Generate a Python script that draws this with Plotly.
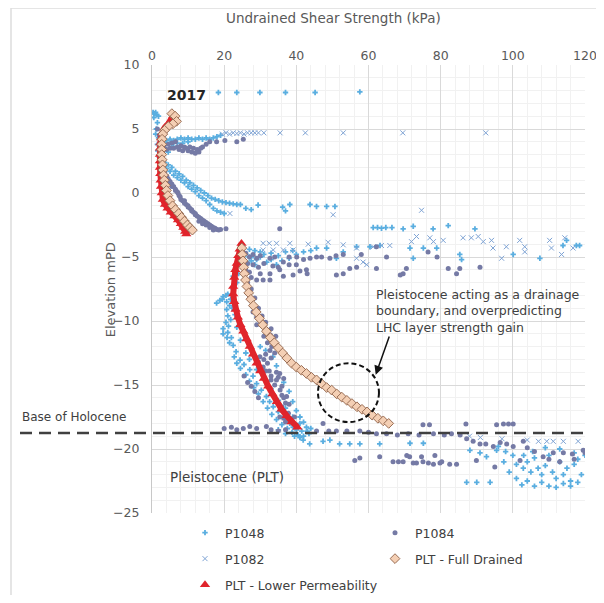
import plotly.graph_objects as go

# ---------------- data ----------------
P1048 = [
    (0.3,6.3),(0.8,6.2),(1.3,6.1),(1.8,6.0),(0.5,5.9),(1.0,6.3),
    (18.4,7.85),(23.5,7.85),(29.9,7.85),(37.0,7.85),(45.2,7.85),(57.6,7.9),
    (1.5,5.5),(1.2,5.0),(1.0,4.6),(1.8,4.3),(1.5,3.8),(1.6,3.3),(2.0,2.8),(2.3,2.3),(2.6,1.8),
    (3,4.2),(4,4.1),(5,4.2),(6,4.1),(7,4.2),(8,4.3),(9,4.2),(10,4.3),(11,4.2),(12,4.2),(13,4.3),
    (14,4.2),(15,4.3),(16,4.2),(17,4.3),(18,4.4),(19,4.5),(4,3.9),(5.5,3.8),(7,3.9),(8.5,3.9),
    (10,4.0),(3.5,3.5),(4.5,3.2),(6,3.6),
    (3.5,2.4),(4.5,2.2),(5.5,2.0),(6.5,1.7),(7.5,1.5),(8.5,1.3),(9.5,1.0),(10.5,0.8),(11.5,0.6),
    (12.5,0.4),(13.5,0.2),(14.5,0.0),(15.5,-0.2),(16.5,-0.4),(17.5,-0.5),(18.5,-0.6),(19.5,-0.7),
    (20.5,-0.75),(21.5,-0.8),(22.5,-0.85),(23.5,-0.9),(24.5,-0.9),
    (4,1.9),(5,1.7),(6,1.4),(7,1.2),(8,1.0),(9,0.8),(10,0.5),(11,0.3),(12,0.1),(13,-0.2),
    (14,-0.4),(15,-0.6),(16,-0.9),(17,-1.2),(18,-1.4),(19,-1.5),(20,-1.6),
    (26,-1.2),(27.5,-1.3),(29.4,-0.94),(36.2,-1.1),(37,-1.4),(38.2,-0.9),(43.8,-0.9),
    (45.6,-1.05),(48.4,-1.05),(50.7,-1.05),
    (61.3,-2.7),(62.5,-2.7),(63.6,-2.75),(64.8,-2.7),(66.5,-2.7),(69.6,-2.8),(72.4,-2.6),
    (77.9,-2.8),(82.1,-2.55),(89.5,-2.8),
    (26,-4.8),(27,-5.0),(28,-4.9),(29,-5.2),(30,-5.0),(31.8,-5.4),(33,-5.2),(34.5,-5.6),(36,-5.3),
    (38,-5.1),(40,-4.8),(42,-4.6),(44,-4.5),(45.6,-4.3),(48.4,-4.3),(51.1,-5.1),(53,-4.6),
    (56.7,-4.2),(60.4,-4.2),(63.2,-4.1),(71.5,-4.3),(72.4,-5.1),(75.2,-4.3),(78.9,-4.3),
    (85.3,-4.8),(85.8,-5.2),(100.1,-4.8),(107.5,-5.1),(113.9,-4.1),(117.6,-4.1),(118.5,-4.1),
    (114.9,-3.7),(24.5,-5.5),(25.5,-5.8),(26.5,-5.5),(27.5,-5.3),(28.5,-5.6),
    (24.5,-4.5),(25.5,-4.6),(27,-4.4),(28.5,-4.5),(30,-4.6),(31,-4.8),(33,-4.7),(35,-4.9),
    (37,-4.6),(39,-4.5),
    (24,-6.3),(23.5,-7.0),(22.5,-7.5),(21,-7.9),(19.7,-8.1),(17.9,-8.6),(18.8,-8.4),(20.7,-8.5),
    (21.5,-8.8),(20.7,-9.1),(21,-9.6),(20.5,-10.1),(19.7,-10.6),(19.7,-11.0),(21,-10.9),
    (22,-11.3),(22.5,-11.9),(23.3,-12.4),(24.4,-13.05),(25.5,-13.4),(27.1,-13.8),(28,-14.3),
    (29,-14.9),(30.3,-15.4),(31.7,-15.9),(32.6,-16.3),(33.6,-16.7),(35,-17.1),(36.4,-17.5),
    (37.3,-17.8),(38.2,-18.0),(39.1,-18.3),(40,-18.5),(41.5,-18.6),(42.8,-18.3),(43.5,-18.8),
    (41,-19.1),(39.5,-19.0),
    (19.5,-8.3),(20.5,-8.0),(21.8,-8.3),(22.2,-9.0),(21.8,-9.9),(21.2,-10.4),(20.8,-11.3),
    (21.5,-11.7),(22.8,-12.8),(23.5,-13.3),(24.5,-13.7),(26,-14.2),(27,-14.7),(28.2,-15.2),
    (29.5,-15.7),(30.8,-16.3),(32,-16.8),(33.2,-17.3),(34.5,-17.7),(36,-18.1),(37.5,-18.4),
    (38.8,-18.7),(40.5,-18.9),(42,-19.0),(37,-18.8),(35,-18.5),
    (23,-6),(22.5,-6.5),(23,-9.5),(23.5,-10.5),(24.5,-11.5),(26,-12.5),(27,-13),(29,-13.8),
    (31,-14.5),(33,-15.3),(35,-16.2),(37,-16.8),(39,-17.5),(41,-18.0),(43,-18.6),
    (30,-12.0),(31.5,-12.3),(33.5,-12.8),(34.5,-13.5),(36.5,-14.8),(38,-15.5),(39,-16.3),
    (40,-17.0),(41,-17.5),(42,-17.9),(44,-18.4),
    (41.9,-19.3),(43.7,-19.6),(47.4,-19.4),(49.3,-19.3),(52,-19.6),(54.8,-19.6),(57.6,-19.6),
    (63.1,-19.6),(71.5,-19.55),(75.2,-19.55),(87.2,-22.6),(90,-22.6),(93.7,-22.6),
    (90.9,-20.3),(95.5,-20.1),(88.1,-20.1),(92.7,-20.6),
    (96,-19.8),(98,-20.2),(100,-20.5),(101,-21.2),(102.9,-21.5),(104,-21.0),(105,-21.8),
    (106,-20.7),(107,-21.5),(108,-22.0),(109,-21.3),(110,-20.5),(111,-21.8),(112,-22.3),
    (113,-21.0),(114,-22.0),(115,-21.5),(116,-22.5),(117,-21.2),(118,-20.8),(119,-22.0),
    (101,-22.3),(102.5,-22.8),(104,-22.5),(106,-22.9),(108,-22.6),(110,-22.9),(112,-23.0),
    (114,-22.7),(116,-22.9),(118,-22.6),(103,-20.5),(105.5,-20.2),(109,-19.9),(113,-20.0),
    (117,-20.3),(120,-20.5),(99,-21.8),(97.5,-21.0),
]

P1084 = [
    (1.5,5.0),(2,4.5),(2.5,4.0),(3,3.7),(3.5,3.5),(4,3.4),(5,3.5),(6,3.5),(7,3.6),(8,3.7),
    (9,3.6),(10,3.3),(11,3.2),(12,3.1),(13,3.2),(14,3.6),(15,3.8),(16,4.0),
    (17.9,4.0),(20.2,4.1),(23.5,4.0),(25.3,4.2),
    (4.5,3.8),(5.5,3.9),(6.5,4.0),(7.5,3.4),(8.5,3.3),(9.5,3.5),(10.5,3.6),(11.5,3.5),
    (12.5,3.4),(13.5,3.5),
    (2.5,2.5),(3,2.0),(3.5,1.6),(4.1,1.3),(5,0.9),(6,0.5),(7,0.1),(7.8,-0.3),(8.5,-0.6),
    (9.5,-0.9),(10.5,-1.2),(11.5,-1.5),(12.5,-1.8),(13.5,-2.0),(14.5,-2.2),(15.5,-2.4),
    (16.5,-2.6),(17.5,-2.75),(18,-2.85),(20.5,-2.8),(35.4,-2.8),
    (5.5,0.5),(6.5,0.2),(7.5,-0.2),(9,-0.6),(10,-1.0),(11,-1.3),(12,-1.6),(13,-1.9),
    (14,-2.1),(15,-2.3),(16,-2.5),(17,-2.7),
    (4.5,1.1),(5.5,0.7),(6.5,0.3),(7.2,0.0),(8,-0.5),(9,-0.8),(10,-1.1),(11,-1.4),(12,-1.7),
    (13,-2.2),(14,-2.4),(15,-2.5),(16,-2.7),(17,-2.9),(18.5,-2.9),(19,-2.85),
    (26,-4.7),(27,-5.0),(28,-4.8),(29,-5.1),(30,-4.9),(32.7,-5.1),(34,-5.0),(36.4,-5.4),
    (38,-5.0),(40.1,-5.0),(42,-5.2),(43.8,-5.1),(45.6,-5.0),(47,-5.0),(49.3,-5.1),(51,-4.9),
    (53,-4.8),(35.4,-6.0),(36.4,-6.5),(39.1,-6.4),(42.8,-6.0),(43,-6.3),(32.7,-6.8),
    (30.8,-6.8),(29,-6.8),(32.7,-6.3),(51.1,-6.4),(53,-6.3),(54.8,-5.9),(56.7,-5.8),
    (62.2,-5.9),(69.6,-6.3),(70.5,-5.9),(68.8,-6.4),(76.5,-4.6),(82.1,-5.9),(84.4,-6.3),
    (85.3,-5.9),(90.9,-5.8),(62.2,-4.2),(58,-4.8),(65,-5.0),(79,-5.0),
    (28,-5.6),(29.5,-5.8),(31,-5.5),(26,-6.0),(27.5,-6.6),(30,-6.3),(33.5,-5.7),(35,-5.8),
    (38,-5.6),(40,-5.6),(41,-6.1),
    (26.5,-5.5),(27,-6.2),(26.5,-7.0),(27.1,-8.1),(28,-8.8),(29,-9.7),(30.3,-10.2),
    (31.7,-10.7),(32.8,-11.1),(33.6,-11.5),(33.2,-12.0),(32.7,-12.3),(31.5,-12.6),
    (29.9,-12.8),(29.5,-13.2),(30.8,-13.6),(32.5,-13.9),(35.4,-14.1),(35,-14.4),(34.5,-14.6),
    (34,-15.0),(35.5,-15.4),(37.3,-15.9),(37,-16.4),(36.4,-17.0),(35.4,-17.5),(36.5,-17.6),
    (38.2,-17.7),(28,-9.3),(29,-10.3),(31,-11.2),(32,-11.7),(31,-13.0),(33,-14.3),(36,-15.8),
    (36,-16.7),(25.5,-14.3),(26.5,-14.8),(27.5,-15.1),(28.5,-15.5),(29.5,-16.0),
    (27.5,-7.5),(28.5,-8.2),(29.5,-9.0),(30.5,-9.6),(31.5,-10.1),(33,-10.6),(34.3,-11.2),
    (34.5,-11.8),(34,-12.5),(33,-12.9),(32,-13.3),(31.5,-13.9),(33,-14.6),(34.5,-14.0),
    (36.5,-14.5),(36,-15.1),(36.5,-16.0),(38,-16.5),(37.8,-17.2),(37,-17.9),(39,-18.0),
    (39.5,-17.5),
    (20,-18.4),(22,-18.3),(23.5,-18.5),(25.3,-18.4),(27.1,-18.25),(29,-18.4),(31.7,-18.25),
    (33,-18.5),(35,-18.6),(37,-18.5),(45.6,-18.6),(47.4,-18.0),(49,-18.6),(51.1,-18.6),
    (54,-18.6),(57.6,-18.6),(60,-18.7),(62.2,-18.8),(75.1,-18.1),(76.9,-18.1),(87.0,-18.05),
    (95.5,-18.1),(97.4,-18.05),(98.8,-18.05),(100.1,-18.05),
    (65,-18.8),(68,-18.9),(71,-18.8),(74,-18.9),(78,-18.8),(81,-18.9),(83,-18.8),(85.4,-18.9),
    (87.2,-19.2),(89,-19.4),(90.9,-19.6),(92.5,-19.6),(94.6,-19.8),(96.5,-19.5),(98.3,-19.6),
    (100.1,-19.8),(102.9,-19.4),(104,-19.9),(106,-20.2),(108.4,-20.6),(111.2,-20.3),
    (114,-20.3),(116.5,-20.4),(119.5,-20.1),(110,-20.8),(113,-21.0),(117,-20.8),(120,-20.3),
    (56.2,-20.9),(57.6,-20.7),(63.1,-20.6),(66.8,-21.0),(68.3,-21.0),(69.6,-21.0),(70.6,-20.5),
    (71.4,-20.6),(72.4,-21.1),(73.3,-21.1),(74.7,-20.6),(75.1,-21.0),(76.6,-21.1),(78,-21.2),
    (78.4,-20.5),(79.8,-21.1),(80.3,-21.0),(82.5,-21.2),(84.4,-21.2),(89.9,-20.9),(95,-21.4),
    (102,-20.9),
]

P1082 = [
    (19.5,4.6),(20.5,4.7),(21.5,4.6),(22.5,4.7),(23.5,4.65),(24.5,4.7),(25.5,4.6),(26.5,4.7),
    (27.5,4.7),(28.5,4.7),(29.5,4.7),(31,4.7),(35.5,4.7),(42.5,4.7),(53,4.7),(69.5,4.7),(92.5,4.7),
    (21.6,-1.6),(50.2,-1.7),(74.7,-1.35),
    (30.8,-3.93),(32.5,-3.93),(34.5,-3.93),(38.2,-3.93),(43.3,-4.0),(48.8,-3.85),(53,-4.05),
    (56.7,-4.3),(61.3,-4.2),(63.6,-4.1),(65.9,-4.1),(30.8,-4.45),(33.6,-4.45),(36.4,-4.45),
    (39.1,-4.45),(56.7,-5.1),(58.5,-5.4),(59.5,-5.6),(71.9,-3.8),(73.3,-3.4),(77,-3.5),
    (78,-3.8),(80.7,-3.7),(86.2,-3.5),(88.5,-3.5),(90.4,-3.4),(91.8,-3.8),(94.1,-3.7),
    (94.5,-4.3),(96.9,-5.1),(98.2,-4.2),(101.9,-3.7),(103.3,-4.6),(103.3,-4.2),(110.2,-3.7),
    (110.7,-4.3),(113.5,-4.8),(114.4,-3.5),(116.7,-4.3),
    (107.1,-19.4),(109.4,-19.4),(111.2,-19.4),(114,-19.4),(118.1,-19.4),
    (88,-19.0),(91,-19.1),(97,-19.2),(104,-19.3),
]

PLT_LOWER_PERM_UPPER = [
    (5.8,6.0),(5.3,5.7),(4.5,5.4),(3.5,5.1),(2.8,4.7),(2.5,4.3),(2.3,3.9),(2.2,3.5),(2.2,3.0),
    (2.2,2.5),(2.2,2.0),(2.3,1.5),(2.4,1.0),(2.5,0.5),(2.7,0.0),(3.0,-0.5),(3.6,-0.9),
    (4.3,-1.2),(5.2,-1.5),(6.2,-1.8),(7.2,-2.1),(8.0,-2.4),(8.7,-2.7),(9.2,-3.0),(9.5,-3.2),
]
PLT_LOWER_PERM_LOWER = [
    (24.8,-3.95),(24.3,-4.4),(23.9,-4.9),(23.5,-5.5),(23.1,-6.0),(22.8,-6.6),(22.5,-7.3),
    (22.5,-7.9),(22.8,-8.5),(23.2,-9.1),(23.8,-9.7),(24.5,-10.3),(25.3,-10.8),(26.2,-11.4),
    (27.1,-12.0),(28,-12.6),(29,-13.3),(30,-13.9),(31,-14.5),(32.2,-15.1),(33.4,-15.7),
    (34.6,-16.3),(35.9,-16.9),(37.3,-17.4),(38.7,-17.9),(40.3,-18.3),
]
PLT_FULL_DRAINED_UPPER = [
    (5.5,6.2),(6.4,6.0),(6.8,5.6),(5.8,5.4),(4.5,5.2),(3.5,4.9),(3.0,4.6),(2.8,4.2),(2.7,3.8),
    (2.7,3.4),(2.7,3.0),(2.8,2.6),(2.9,2.2),(3.0,1.8),(3.2,1.4),(3.4,1.0),(3.7,0.6),(4.0,0.2),
    (4.4,-0.2),(5.0,-0.6),(5.7,-1.0),(6.5,-1.3),(7.4,-1.6),(8.2,-1.9),(9.0,-2.2),(9.8,-2.5),
    (10.5,-2.7),(11.2,-2.9),
]
PLT_FULL_DRAINED_LOWER = [
    (24.9,-4.3),(25.0,-4.8),(25.2,-5.3),(25.4,-5.8),(25.6,-6.3),(25.9,-6.8),(26.3,-7.3),
    (26.8,-7.8),(27.4,-8.3),(28.1,-8.8),(28.9,-9.3),(29.8,-9.8),(30.7,-10.3),(31.7,-10.8),
    (32.8,-11.3),(33.9,-11.7),(35.0,-12.1),(36.2,-12.5),(37.4,-12.9),(38.7,-13.3),(40.0,-13.6),
    (41.4,-13.85),(42.8,-14.1),(44.2,-14.4),(45.6,-14.6),(47.0,-14.9),(48.4,-15.2),(49.8,-15.4),
    (51.2,-15.7),(52.6,-15.95),(54.0,-16.2),(55.4,-16.45),(56.8,-16.7),(58.2,-16.9),(59.6,-17.1),
    (61.0,-17.35),(62.6,-17.6),(64.1,-17.8),(65.6,-18.0),
]

X_TICKS = [0, 20, 40, 60, 80, 100, 120]
Y_TICKS = [10, 5, 0, -5, -10, -15, -20, -25]
BASE_OF_HOLOCENE = -18.75

FONT = "DejaVu Sans"
GREY_TXT = "#595959"
DARK_TXT = "#404040"

# ---------------- geometry ----------------
# the page has an 8px body margin, so the figure is kept inside 604x603 - 16
W, H = 588, 587
ML, MR, MT, MB = 144, 11, 57, 82
PLOT_W = W - ML - MR            # 433
PLOT_H = H - MT - MB            # 448


def py(page_y):
    """page pixel row -> paper y"""
    return 1 - (page_y - 8 - MT) / PLOT_H


def px(page_x):
    """page pixel column -> paper x"""
    return (page_x - 8 - ML) / PLOT_W


def xs(pts):
    return [p[0] if p is not None else None for p in pts]


def ys(pts):
    return [p[1] if p is not None else None for p in pts]


red_pts = PLT_LOWER_PERM_UPPER + [None] + PLT_LOWER_PERM_LOWER
dia_pts = PLT_FULL_DRAINED_UPPER + [None] + PLT_FULL_DRAINED_LOWER

fig = go.Figure()

fig.add_trace(go.Scatter(x=xs(P1048), y=ys(P1048), mode="markers", name="P1048",
                         legend="legend", legendrank=1,
                         marker=dict(symbol="cross", size=4.5, color="#5aaee0")))
fig.add_trace(go.Scatter(x=xs(P1082), y=ys(P1082), mode="markers", name="P1082",
                         legend="legend2", legendrank=3,
                         marker=dict(symbol="x-thin", size=5, color="#7ea3d4",
                                     line=dict(width=1, color="#7ea3d4"))))
fig.add_trace(go.Scatter(x=xs(P1084), y=ys(P1084), mode="markers", name="P1084",
                         legend="legend", legendrank=2,
                         marker=dict(symbol="circle", size=5, color="#757aa5")))
fig.add_trace(go.Scatter(x=xs(red_pts), y=ys(red_pts), mode="lines", showlegend=False,
                         line=dict(color="#e0242b", width=6), hoverinfo="skip"))
fig.add_trace(go.Scatter(x=xs(red_pts), y=ys(red_pts), mode="markers",
                         name="PLT - Lower Permeability", legend="legend3", legendrank=5,
                         marker=dict(symbol="triangle-up", size=9, color="#e0242b")))
fig.add_trace(go.Scatter(x=xs(dia_pts), y=ys(dia_pts), mode="markers",
                         name="PLT - Full Drained", legend="legend2", legendrank=4,
                         marker=dict(symbol="diamond", size=7.5, color="#f4cfb4",
                                     line=dict(width=1, color="#9a6e55"))))

shapes = [
    dict(type="line", xref="paper", yref="paper", x0=px(11), x1=1.05, y0=py(8), y1=py(8),
         line=dict(color="#dcdcdc", width=1.5)),
    dict(type="line", xref="paper", yref="paper", x0=px(11), x1=px(11), y0=py(8), y1=py(603),
         line=dict(color="#dcdcdc", width=1.5)),
    dict(type="line", xref="paper", yref="y", x0=px(20), x1=1.0,
         y0=BASE_OF_HOLOCENE, y1=BASE_OF_HOLOCENE,
         line=dict(color="#404040", width=2.5, dash="12px,7px")),
    dict(type="circle", xref="x", yref="y", x0=46.0, x1=62.9, y0=-13.3, y1=-17.9,
         line=dict(color="#111111", width=2, dash="5px,3px")),
]

annotations = [
    dict(text="Undrained Shear Strength (kPa)", x=px(333), y=py(18), xref="paper",
         yref="paper", xanchor="center", yanchor="middle", showarrow=False,
         font=dict(family=FONT, size=13.5, color=GREY_TXT)),
    dict(text="Elevation mPD", x=px(110), y=-7.6, xref="paper", yref="y", textangle=-90,
         xanchor="center", yanchor="middle", showarrow=False,
         font=dict(family=FONT, size=13, color=GREY_TXT)),
    dict(text="<b>2017</b>", x=3.6, y=7.66, xref="x", yref="y", xanchor="left",
         showarrow=False, font=dict(family=FONT, size=14, color="#262626")),
    dict(text="Pleistocene acting as a drainage<br>boundary, and overpredicting<br>"
              "LHC layer strength gain",
         x=61.5, y=-9.22, xref="x", yref="y", xanchor="left", yanchor="middle",
         align="left", showarrow=False,
         font=dict(family=FONT, size=12.5, color=DARK_TXT)),
    dict(text="", x=62.0, y=-14.2, ax=65.9, ay=-11.1, xref="x", yref="y",
         axref="x", ayref="y", showarrow=True, arrowhead=2, arrowsize=1.2,
         arrowwidth=1.5, arrowcolor="#111111"),
    dict(text="Base of Holocene", x=px(20), y=-17.5, xref="paper", yref="y",
         xanchor="left", showarrow=False, font=dict(family=FONT, size=12, color=DARK_TXT)),
    dict(text="Pleistocene (PLT)", x=4.4, y=-22.2, xref="x", yref="y",
         xanchor="left", showarrow=False, font=dict(family=FONT, size=13.5, color=DARK_TXT)),
]

legend_common = dict(orientation="h", x=px(185), xanchor="left", yanchor="middle",
                     entrywidthmode="pixels", itemwidth=30,
                     font=dict(family=FONT, size=12.5, color=DARK_TXT),
                     bgcolor="rgba(0,0,0,0)")

fig.update_layout(
    width=W, height=H,
    margin=dict(l=ML, r=MR, t=MT, b=MB, autoexpand=False),
    paper_bgcolor="white", plot_bgcolor="white",
    font=dict(family=FONT, size=12.5, color=GREY_TXT),
    shapes=shapes, annotations=annotations,
    legend=dict(y=py(533), entrywidth=145, **legend_common),
    legend2=dict(y=py(559), entrywidth=145, **legend_common),
    legend3=dict(y=py(585), entrywidth=230, **legend_common),
    xaxis=dict(side="top", range=[0, 120], tickvals=X_TICKS, showline=False, zeroline=False,
               gridcolor="#d9d9d9", gridwidth=1, ticklabeloverflow="allow",
               minor=dict(dtick=4, showgrid=True, gridcolor="#f1f1f1", gridwidth=1),
               ticklabelstandoff=2, tickfont=dict(size=12.5, color=GREY_TXT)),
    yaxis=dict(range=[-25, 10], tickvals=Y_TICKS, showline=True, linecolor="#c8c8c8",
               zeroline=False, gridcolor="#d9d9d9", gridwidth=1, ticklabeloverflow="allow",
               minor=dict(dtick=1, showgrid=True, gridcolor="#f1f1f1", gridwidth=1),
               ticklabelstandoff=9, tickfont=dict(size=12.5, color=GREY_TXT)),
)

fig.write_html("out.html")
